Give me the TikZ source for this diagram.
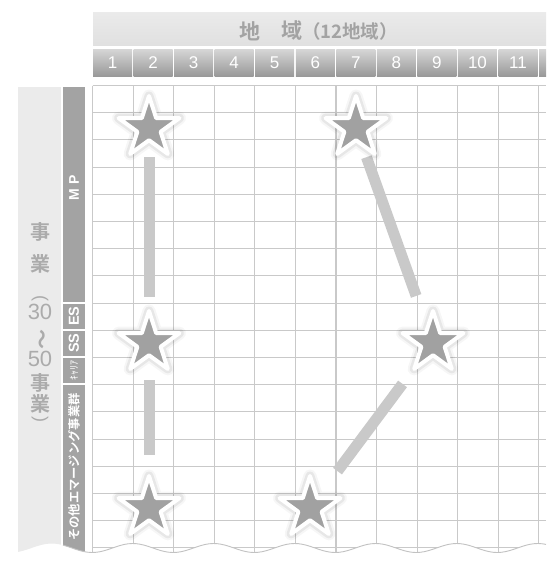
\documentclass[tikz,border=0pt]{standalone}
\usepackage{fontspec}
\setmainfont{Liberation Sans}
\newfontfamily\cjk{Noto Sans CJK JP}[BoldFont={Noto Sans CJK JP Bold}]
\usetikzlibrary{shapes.geometric}
\pgfdeclarelayer{back}
\pgfdeclarelayer{mid}
\pgfsetlayers{back,mid,main}
\begin{document}
\begin{tikzpicture}[x=1pt,y=-1pt,
  gridline/.style={draw=black!21, line width=1.1pt},
  numbox/.style={minimum width=39pt, minimum height=27pt, inner sep=0pt, top color=black!16, bottom color=black!40, draw=none, text=white, font=\fontsize{17}{17}\selectfont},
  sidebar/.style={fill=black!36, draw=none},
  sidetext/.style={text=white, rotate=90, inner sep=0pt},
  guttext/.style={text=black!33, inner sep=0pt, font=\cjk\bfseries\fontsize{20}{20}\selectfont},
  gutdigit/.style={text=black!33, inner sep=0pt, font=\fontsize{22}{22}\selectfont},
  headtext/.style={text=black!36, inner sep=0pt, font=\cjk\bfseries\fontsize{21}{21}\selectfont},
  starnode/.style={star, star points=5, star point ratio=2.618, minimum size=64pt, inner sep=0pt, fill=black!37, draw=white, line width=4pt, line join=round,
    preaction={draw=black, line width=13pt, opacity=0.035, line join=round},
    preaction={draw=black, line width=9pt, opacity=0.06, line join=round}},
  conn/.style={draw=black!21, line width=11pt}
]
\useasboundingbox (0,0) rectangle (546,562);
\begin{pgfonlayer}{back}
\fill[white] (0,0) rectangle (546,562);
% header band
\shade[top color=black!8, bottom color=black!12] (93,12) rectangle (546,45);
\node[headtext] (h1) at (250,31) {地};
\node[headtext] (h2) at (292,31) {域};
\node[headtext, font=\cjk\bfseries\fontsize{18.5}{18.5}\selectfont] (h3) at (350,31) {（12地域）};
% column numbers
\foreach \i in {1,...,11} {
  \node[numbox] (n\i) at ({93+40.55*(\i-1)+19.5},62.5) {\i};
}
\shade[top color=black!16, bottom color=black!40] (539,49) rectangle (546,76);
% clipped body
\begin{scope}
\clip (0,80) -- (546,80) -- plot[domain=546:0, samples=120] (\x,{548+4.5*sin(4.4444*(\x-72))}) -- cycle;
\fill[black!8] (18,87) rectangle (61,570);
\fill[sidebar] (63,87) rectangle (85,302);
\fill[sidebar] (63,304) rectangle (85,328.5);
\fill[sidebar] (63,331) rectangle (85,355.5);
\fill[sidebar] (63,358) rectangle (85,382.5);
\fill[sidebar] (63,385) rectangle (85,570);
\foreach \k in {0,...,17} {
  \draw[gridline] (92.7,{85.5+27.2*\k}) -- (546,{85.5+27.2*\k});
}
\foreach \k in {0,...,11} {
  \draw[gridline] ({92.7+40.55*\k},85.5) -- ({92.7+40.55*\k},570);
}
\end{scope}
\draw[draw=black!24, line width=0.9pt] plot[domain=63:546, samples=120] (\x,{548+4.5*sin(4.4444*(\x-72))});
% side labels
\node[sidetext, font=\bfseries\fontsize{14}{14}\selectfont] (mp) at (74,188) {M P};
\node[sidetext, font=\bfseries\fontsize{14.5}{14.5}\selectfont] (es) at (74,316) {ES};
\node[sidetext, font=\bfseries\fontsize{14.5}{14.5}\selectfont] (ss) at (74,343) {SS};
\node[sidetext, font=\cjk\fontsize{10}{10}\selectfont] (ca) at (74,370) {ｷｬﾘｱ};
\node[sidetext, font=\cjk\bfseries\fontsize{12.3}{12.3}\selectfont] (em) at (74,467) {その他エマージング事業群};
% gutter label
\node[guttext] (g1) at (40,232) {事};
\node[guttext] (g2) at (40,264) {業};
\node[gutdigit, rotate=-90, font=\fontsize{18}{18}\selectfont] (g3) at (40,298.5) {(};
\node[gutdigit] (g4) at (40,312) {30};
\node[guttext, rotate=-90] (g5) at (40,339) {～};
\node[gutdigit] (g6) at (40,359) {50};
\node[guttext] (g7) at (40,382.5) {事};
\node[guttext] (g8) at (40,404) {業};
\node[gutdigit, rotate=-90, font=\fontsize{18}{18}\selectfont] (g9) at (40,419) {)};
\end{pgfonlayer}
% stars
\node[starnode] (A) at (149,128) {};
\node[starnode] (B) at (149,343) {};
\node[starnode] (C) at (149,508) {};
\node[starnode] (D) at (356,128) {};
\node[starnode] (E) at (433,343) {};
\node[starnode] (F) at (310,508) {};
\begin{pgfonlayer}{mid}
\draw[conn, shorten <=29pt, shorten >=46pt] (A.center) -- (B.center);
\draw[conn, shorten <=37pt, shorten >=53pt] (B.center) -- (C.center);
\draw[conn, shorten <=31pt, shorten >=50pt] (D.center) -- (E.center);
\draw[conn, shorten <=51pt, shorten >=46pt] (E.center) -- (F.center);
\end{pgfonlayer}
\end{tikzpicture}
\end{document}
